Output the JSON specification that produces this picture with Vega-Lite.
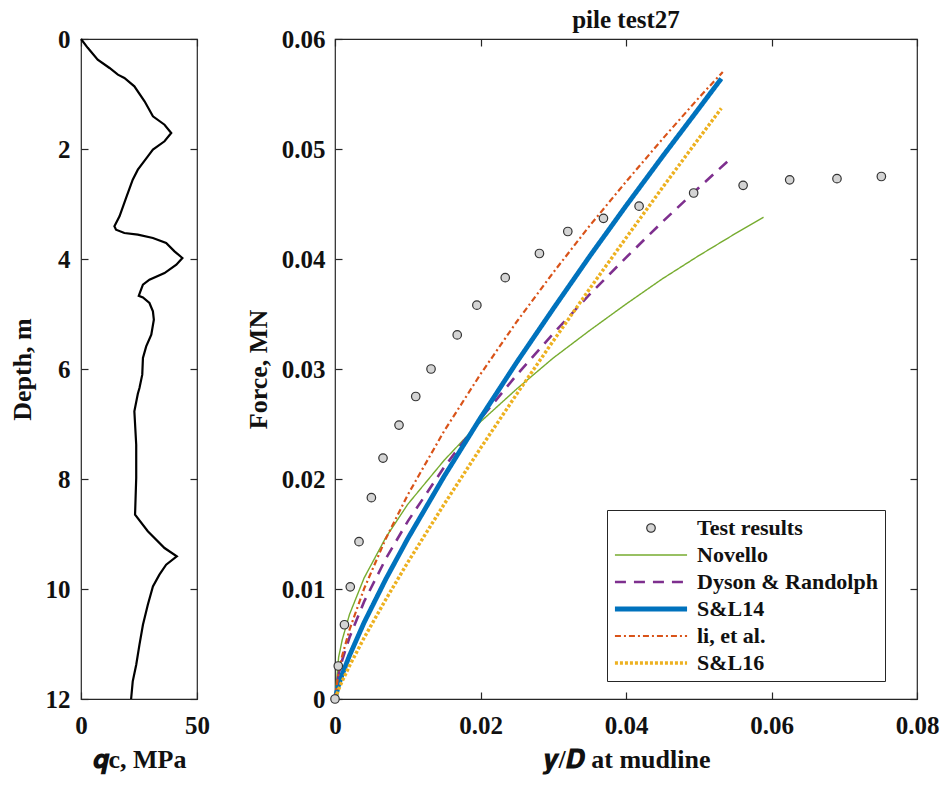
{
  "$schema": "https://vega.github.io/schema/vega-lite/v6.json",
  "background": "white",
  "padding": {"left": 8, "top": 7, "right": 5, "bottom": 5},
  "bounds": "flush",
  "spacing": 138,
  "config": {
    "view": {"stroke": "#262626", "strokeWidth": 1.2},
    "font": "Liberation Serif",
    "axis": {
      "domain": false,
      "grid": false,
      "tickColor": "#262626",
      "tickWidth": 1.2,
      "tickSize": -7,
      "labelFont": "Liberation Serif",
      "labelFontWeight": "bold",
      "labelFontSize": 25,
      "labelColor": "#111111",
      "labelFlush": false,
      "labelOverlap": false,
      "titleFont": "Liberation Serif",
      "titleFontWeight": "bold",
      "titleFontSize": 26,
      "titleColor": "#111111"
    },
    "axisBottom": {"labelPadding": 21, "titlePadding": 8},
    "axisLeft": {"labelPadding": 18, "titlePadding": 10},
    "legend": {
      "orient": "none",
      "legendX": 526,
      "legendY": 471,
      "padding": 7,
      "rowPadding": 5,
      "symbolOffset": 26,
      "labelOffset": 35,
      "symbolSize": 72,
      "symbolFillColor": "#d4d4d4",
      "labelFont": "Liberation Serif",
      "labelFontWeight": "bold",
      "labelFontSize": 22,
      "labelColor": "#111111",
      "labelLimit": 400,
      "strokeColor": "#262626",
      "fillColor": "white"
    }
  },
  "datasets": {
    "cpt": [
      {"qc": 0, "depth": 0}, {"qc": 2.9, "depth": 0.16}, {"qc": 7.2, "depth": 0.376}, {"qc": 12.3, "depth": 0.527},
      {"qc": 15.9, "depth": 0.648}, {"qc": 18.7, "depth": 0.709}, {"qc": 23.0, "depth": 0.86}, {"qc": 27.4, "depth": 1.133},
      {"qc": 31.0, "depth": 1.406}, {"qc": 36.0, "depth": 1.558}, {"qc": 38.9, "depth": 1.709}, {"qc": 36.0, "depth": 1.86},
      {"qc": 31.0, "depth": 2.012}, {"qc": 28.8, "depth": 2.133}, {"qc": 24.5, "depth": 2.376}, {"qc": 22.3, "depth": 2.558},
      {"qc": 19.4, "depth": 2.891}, {"qc": 16.6, "depth": 3.224}, {"qc": 14.4, "depth": 3.406}, {"qc": 15.1, "depth": 3.467},
      {"qc": 18.7, "depth": 3.527}, {"qc": 24.5, "depth": 3.558}, {"qc": 31.0, "depth": 3.618}, {"qc": 36.7, "depth": 3.709},
      {"qc": 40.3, "depth": 3.861}, {"qc": 43.7, "depth": 3.982}, {"qc": 41.1, "depth": 4.103}, {"qc": 36.0, "depth": 4.255},
      {"qc": 29.5, "depth": 4.376}, {"qc": 26.7, "depth": 4.467}, {"qc": 25.6, "depth": 4.588}, {"qc": 24.9, "depth": 4.67},
      {"qc": 26.7, "depth": 4.70}, {"qc": 29.5, "depth": 4.8}, {"qc": 31.0, "depth": 4.952}, {"qc": 31.4, "depth": 5.103},
      {"qc": 30.3, "depth": 5.376}, {"qc": 28.1, "depth": 5.588}, {"qc": 26.7, "depth": 5.8}, {"qc": 26.4, "depth": 6.103},
      {"qc": 25.2, "depth": 6.345}, {"qc": 24.5, "depth": 6.45}, {"qc": 23.0, "depth": 6.77}, {"qc": 23.8, "depth": 7.376},
      {"qc": 23.8, "depth": 7.982}, {"qc": 23.3, "depth": 8.649}, {"qc": 28.8, "depth": 8.95}, {"qc": 36.0, "depth": 9.255},
      {"qc": 41.3, "depth": 9.406}, {"qc": 36.7, "depth": 9.558}, {"qc": 33.8, "depth": 9.739}, {"qc": 31.0, "depth": 9.952},
      {"qc": 28.8, "depth": 10.285}, {"qc": 26.7, "depth": 10.649}, {"qc": 25.2, "depth": 11.012}, {"qc": 23.8, "depth": 11.376},
      {"qc": 22.3, "depth": 11.679}, {"qc": 21.6, "depth": 12.0}
    ],
    "tests": [
      {"series": "Test results", "yd": 0, "f": 0}, {"series": "Test results", "yd": 0.00045, "f": 0.0030},
      {"series": "Test results", "yd": 0.0013, "f": 0.00675}, {"series": "Test results", "yd": 0.0021, "f": 0.0102},
      {"series": "Test results", "yd": 0.0033, "f": 0.0143}, {"series": "Test results", "yd": 0.0050, "f": 0.0183},
      {"series": "Test results", "yd": 0.0066, "f": 0.0219}, {"series": "Test results", "yd": 0.0088, "f": 0.0249},
      {"series": "Test results", "yd": 0.0111, "f": 0.0275}, {"series": "Test results", "yd": 0.0132, "f": 0.0300},
      {"series": "Test results", "yd": 0.0168, "f": 0.0331}, {"series": "Test results", "yd": 0.0195, "f": 0.0358},
      {"series": "Test results", "yd": 0.0234, "f": 0.0383}, {"series": "Test results", "yd": 0.0281, "f": 0.0405},
      {"series": "Test results", "yd": 0.0320, "f": 0.0425}, {"series": "Test results", "yd": 0.0369, "f": 0.0437},
      {"series": "Test results", "yd": 0.0418, "f": 0.0448}, {"series": "Test results", "yd": 0.0493, "f": 0.0460},
      {"series": "Test results", "yd": 0.0561, "f": 0.0467}, {"series": "Test results", "yd": 0.0625, "f": 0.0472},
      {"series": "Test results", "yd": 0.0690, "f": 0.0473}, {"series": "Test results", "yd": 0.0751, "f": 0.0475}
    ],
    "models": [
      {"series": "Novello", "yd": 0, "f": 0}, {"series": "Novello", "yd": 0.0005, "f": 0.0038}, {"series": "Novello", "yd": 0.001, "f": 0.0054},
      {"series": "Novello", "yd": 0.002, "f": 0.0077}, {"series": "Novello", "yd": 0.004, "f": 0.0110}, {"series": "Novello", "yd": 0.007, "f": 0.0147},
      {"series": "Novello", "yd": 0.01, "f": 0.0177}, {"series": "Novello", "yd": 0.015, "f": 0.0217}, {"series": "Novello", "yd": 0.02, "f": 0.0252},
      {"series": "Novello", "yd": 0.025, "f": 0.0282}, {"series": "Novello", "yd": 0.03, "f": 0.0310}, {"series": "Novello", "yd": 0.035, "f": 0.0335},
      {"series": "Novello", "yd": 0.04, "f": 0.0359}, {"series": "Novello", "yd": 0.045, "f": 0.0382}, {"series": "Novello", "yd": 0.05, "f": 0.0403},
      {"series": "Novello", "yd": 0.055, "f": 0.0423}, {"series": "Novello", "yd": 0.0589, "f": 0.0438},

      {"series": "Dyson & Randolph", "yd": 0, "f": 0}, {"series": "Dyson & Randolph", "yd": 0.0005, "f": 0.00226}, {"series": "Dyson & Randolph", "yd": 0.001, "f": 0.00356},
      {"series": "Dyson & Randolph", "yd": 0.002, "f": 0.00561}, {"series": "Dyson & Randolph", "yd": 0.004, "f": 0.00885}, {"series": "Dyson & Randolph", "yd": 0.007, "f": 0.01277},
      {"series": "Dyson & Randolph", "yd": 0.01, "f": 0.01615}, {"series": "Dyson & Randolph", "yd": 0.015, "f": 0.02107}, {"series": "Dyson & Randolph", "yd": 0.02, "f": 0.02546},
      {"series": "Dyson & Randolph", "yd": 0.025, "f": 0.02948}, {"series": "Dyson & Randolph", "yd": 0.03, "f": 0.03322}, {"series": "Dyson & Randolph", "yd": 0.035, "f": 0.03678},
      {"series": "Dyson & Randolph", "yd": 0.04, "f": 0.04013}, {"series": "Dyson & Randolph", "yd": 0.045, "f": 0.04337}, {"series": "Dyson & Randolph", "yd": 0.05, "f": 0.04648},
      {"series": "Dyson & Randolph", "yd": 0.0545, "f": 0.0492},

      {"series": "S&L14", "yd": 0, "f": 0}, {"series": "S&L14", "yd": 0.0005, "f": 0.00129}, {"series": "S&L14", "yd": 0.001, "f": 0.00226},
      {"series": "S&L14", "yd": 0.002, "f": 0.00396}, {"series": "S&L14", "yd": 0.004, "f": 0.00695}, {"series": "S&L14", "yd": 0.007, "f": 0.01092},
      {"series": "S&L14", "yd": 0.01, "f": 0.01458}, {"series": "S&L14", "yd": 0.015, "f": 0.02024}, {"series": "S&L14", "yd": 0.02, "f": 0.02556},
      {"series": "S&L14", "yd": 0.025, "f": 0.03063}, {"series": "S&L14", "yd": 0.03, "f": 0.03548}, {"series": "S&L14", "yd": 0.035, "f": 0.04024},
      {"series": "S&L14", "yd": 0.04, "f": 0.04483}, {"series": "S&L14", "yd": 0.045, "f": 0.0493}, {"series": "S&L14", "yd": 0.05, "f": 0.05367},
      {"series": "S&L14", "yd": 0.0531, "f": 0.0564},

      {"series": "li, et al.", "yd": 0, "f": 0}, {"series": "li, et al.", "yd": 0.0005, "f": 0.00249}, {"series": "li, et al.", "yd": 0.001, "f": 0.00396},
      {"series": "li, et al.", "yd": 0.002, "f": 0.0063}, {"series": "li, et al.", "yd": 0.004, "f": 0.01003}, {"series": "li, et al.", "yd": 0.007, "f": 0.0146},
      {"series": "li, et al.", "yd": 0.01, "f": 0.01856}, {"series": "li, et al.", "yd": 0.015, "f": 0.02436}, {"series": "li, et al.", "yd": 0.02, "f": 0.02953},
      {"series": "li, et al.", "yd": 0.025, "f": 0.03432}, {"series": "li, et al.", "yd": 0.03, "f": 0.03877}, {"series": "li, et al.", "yd": 0.035, "f": 0.04302},
      {"series": "li, et al.", "yd": 0.04, "f": 0.04702}, {"series": "li, et al.", "yd": 0.045, "f": 0.0509}, {"series": "li, et al.", "yd": 0.05, "f": 0.05465},
      {"series": "li, et al.", "yd": 0.0533, "f": 0.0570},

      {"series": "S&L16", "yd": 0, "f": 0}, {"series": "S&L16", "yd": 0.0005, "f": 0.00089}, {"series": "S&L16", "yd": 0.001, "f": 0.00164},
      {"series": "S&L16", "yd": 0.002, "f": 0.00302}, {"series": "S&L16", "yd": 0.004, "f": 0.00556}, {"series": "S&L16", "yd": 0.007, "f": 0.00907},
      {"series": "S&L16", "yd": 0.01, "f": 0.01242}, {"series": "S&L16", "yd": 0.015, "f": 0.0177}, {"series": "S&L16", "yd": 0.02, "f": 0.0228},
      {"series": "S&L16", "yd": 0.025, "f": 0.02774}, {"series": "S&L16", "yd": 0.03, "f": 0.03255}, {"series": "S&L16", "yd": 0.035, "f": 0.03729},
      {"series": "S&L16", "yd": 0.04, "f": 0.04191}, {"series": "S&L16", "yd": 0.045, "f": 0.04648}, {"series": "S&L16", "yd": 0.05, "f": 0.05095},
      {"series": "S&L16", "yd": 0.0531, "f": 0.0537}
    ]
  },
  "hconcat": [
    {
      "width": 116,
      "height": 660,
      "layer": [
        {
          "data": {"name": "cpt"},
          "mark": {"type": "line", "color": "#000000", "strokeWidth": 2.2},
          "encoding": {
            "x": {"field": "qc", "type": "quantitative", "scale": {"domain": [0, 50]},
                  "axis": {"values": [0, 50], "title": "𝒒c, MPa"}},
            "y": {"field": "depth", "type": "quantitative", "scale": {"domain": [0, 12], "reverse": true},
                  "axis": {"values": [0, 2, 4, 6, 8, 10, 12], "title": "Depth, m"}},
            "order": {"field": "depth"}
          }
        },
        {
          "data": {"name": "cpt"},
          "mark": {"type": "point", "opacity": 0},
          "encoding": {
            "x": {"field": "qc", "type": "quantitative", "scale": {"domain": [0, 50]},
                  "axis": {"orient": "top", "values": [0, 50], "labels": false, "title": null}},
            "y": {"field": "depth", "type": "quantitative", "scale": {"domain": [0, 12], "reverse": true},
                  "axis": {"orient": "right", "values": [0, 2, 4, 6, 8, 10, 12], "labels": false, "title": null}}
          }
        }
      ],
      "resolve": {"axis": {"x": "independent", "y": "independent"}}
    },
    {
      "width": 582,
      "height": 660,
      "title": {"text": "pile test27", "font": "Liberation Serif", "fontSize": 25, "fontWeight": "bold",
                "color": "#111111", "anchor": "middle", "baseline": "alphabetic", "offset": -26, "frame": "group"},
      "layer": [
        {
          "data": {"name": "models"},
          "mark": {"type": "line"},
          "encoding": {
            "x": {"field": "yd", "type": "quantitative", "scale": {"domain": [0, 0.08]},
                  "axis": {"values": [0, 0.02, 0.04, 0.06, 0.08], "format": ".2~f", "title": "𝒚/𝑫 at mudline"}},
            "y": {"field": "f", "type": "quantitative", "scale": {"domain": [0, 0.06]},
                  "axis": {"values": [0, 0.01, 0.02, 0.03, 0.04, 0.05, 0.06], "format": ".2~f", "title": "Force, MN", "labelPadding": 17}},
            "stroke": {"field": "series", "type": "nominal", "title": null,
                       "scale": {"domain": ["Test results", "Novello", "Dyson & Randolph", "S&L14", "li, et al.", "S&L16"],
                                 "range": ["#333333", "#77AC30", "#7E2F8E", "#0072BD", "#D95319", "#EDB120"]}},
            "strokeDash": {"field": "series", "type": "nominal", "title": null,
                           "scale": {"domain": ["Test results", "Novello", "Dyson & Randolph", "S&L14", "li, et al.", "S&L16"],
                                     "range": [[1, 0], [1, 0], [11, 8], [1, 0], [6, 3, 2, 3], [3, 2]]}},
            "strokeWidth": {"field": "series", "type": "nominal", "title": null,
                            "scale": {"type": "ordinal",
                                      "domain": ["Test results", "Novello", "Dyson & Randolph", "S&L14", "li, et al.", "S&L16"],
                                      "range": [1.2, 1.4, 2.6, 4.8, 2.2, 3.4]}}
          }
        },
        {
          "data": {"name": "tests"},
          "mark": {"type": "point", "filled": true, "fill": "#d4d4d4", "size": 72, "strokeWidth": 1.2, "opacity": 1},
          "encoding": {
            "x": {"field": "yd", "type": "quantitative", "scale": {"domain": [0, 0.08]}, "axis": null},
            "y": {"field": "f", "type": "quantitative", "scale": {"domain": [0, 0.06]}, "axis": null},
            "stroke": {"field": "series", "type": "nominal", "title": null,
                       "scale": {"domain": ["Test results", "Novello", "Dyson & Randolph", "S&L14", "li, et al.", "S&L16"],
                                 "range": ["#333333", "#77AC30", "#7E2F8E", "#0072BD", "#D95319", "#EDB120"]}},
            "shape": {"field": "series", "type": "nominal", "title": null,
                      "scale": {"domain": ["Test results", "Novello", "Dyson & Randolph", "S&L14", "li, et al.", "S&L16"],
                                "range": ["circle", "M-8.5,0H8.5", "M-8.5,0H8.5", "M-8.5,0H8.5", "M-8.5,0H8.5", "M-8.5,0H8.5"]}}
          }
        },
        {
          "data": {"name": "tests"},
          "mark": {"type": "point", "opacity": 0},
          "encoding": {
            "x": {"field": "yd", "type": "quantitative", "scale": {"domain": [0, 0.08]},
                  "axis": {"orient": "top", "values": [0, 0.02, 0.04, 0.06, 0.08], "labels": false, "title": null}},
            "y": {"field": "f", "type": "quantitative", "scale": {"domain": [0, 0.06]},
                  "axis": {"orient": "right", "values": [0, 0.01, 0.02, 0.03, 0.04, 0.05, 0.06], "labels": false, "title": null}}
          }
        }
      ],
      "resolve": {"axis": {"x": "independent", "y": "independent"}}
    }
  ]
}
